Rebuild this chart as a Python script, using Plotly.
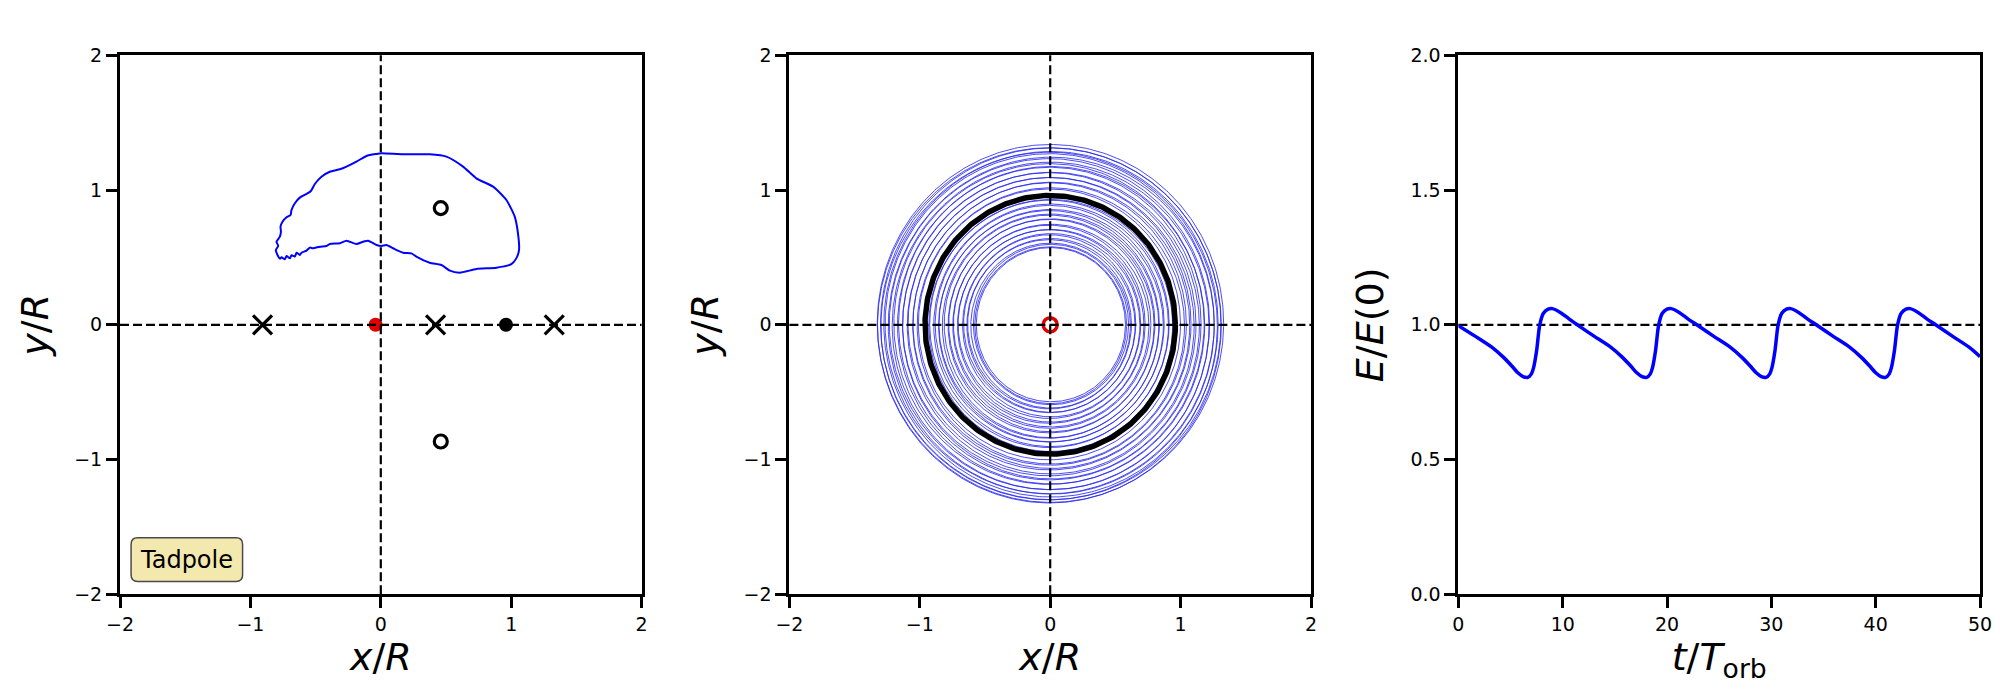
import numpy as np
import plotly.graph_objects as go

# ---------------- data ----------------
# Left panel: tadpole outline (x/R, y/R)
tadpole_x = [0.005, 0.171, 0.375, 0.503, 0.631, 0.733, 0.861, 0.963, 1.027, 1.052, 1.060, 1.039, 1.001,
             0.886, 0.733, 0.605, 0.529, 0.465, 0.375, 0.273, 0.235, 0.171, 0.094, 0.043, 0.005, -0.033,
             -0.097, -0.135, -0.187, -0.263, -0.314, -0.391, -0.416, -0.467, -0.519, -0.544, -0.570,
             -0.608, -0.621, -0.646, -0.659, -0.685, -0.697, -0.723, -0.736, -0.761, -0.774, -0.792,
             -0.805, -0.787, -0.800, -0.774, -0.766, -0.769, -0.754, -0.723, -0.692, -0.685, -0.659,
             -0.621, -0.570, -0.536, -0.506, -0.455, -0.391, -0.314, -0.263, -0.187, -0.110, -0.033, 0.005]
tadpole_y = [1.273, 1.265, 1.265, 1.248, 1.174, 1.087, 1.025, 0.926, 0.803, 0.679, 0.555, 0.493, 0.450,
             0.424, 0.414, 0.387, 0.402, 0.444, 0.461, 0.506, 0.530, 0.535, 0.568, 0.592, 0.585, 0.592,
             0.624, 0.617, 0.600, 0.624, 0.605, 0.600, 0.585, 0.580, 0.568, 0.573, 0.550,
             0.535, 0.518, 0.535, 0.506, 0.516, 0.493, 0.511, 0.486, 0.501, 0.491, 0.518,
             0.555, 0.585, 0.617, 0.654, 0.691, 0.728, 0.765, 0.798, 0.815, 0.852, 0.902,
             0.944, 0.971, 0.993, 1.045, 1.099, 1.136, 1.154, 1.174, 1.211, 1.253, 1.268, 1.273]

lagrange_x = [-0.907, 0.420, 1.330]      # collinear points (x markers)
lagrange_y = [0.0, 0.0, 0.0]
triangular_x = [0.460, 0.460]            # L4 / L5 (open circles)
triangular_y = [0.866, -0.866]
primary_xy = (-0.040, 0.0)               # red dot
secondary_xy = (0.960, 0.0)              # black dot
label_text = "Tadpole"

# Middle panel: trajectory loops (inertial frame): radius and slight centre drift, plus secondary's orbit
loop_radii = [1.328, 1.318, 1.305, 1.29, 1.282, 1.262, 1.25, 1.228, 1.215, 1.19, 1.178, 1.16,
              1.138, 1.125, 1.10, 1.085, 1.062, 1.048, 1.025, 1.005,
              0.935, 0.918, 0.90, 0.878, 0.862, 0.845, 0.83, 0.808, 0.79, 0.775, 0.752,
              0.735, 0.715, 0.70, 0.68, 0.66, 0.645, 0.628, 0.612, 0.595, 0.582, 0.572]
loop_cx = [0.002, -0.006, 0.004, -0.008, 0.006, -0.004, 0.008, -0.006, 0.003, -0.009, 0.007, -0.003,
           0.006, -0.007, 0.004, -0.005, 0.008, -0.004, 0.005, -0.006,
           0.004, -0.006, 0.007, -0.004, 0.006, -0.008, 0.003, -0.005, 0.007, -0.003, 0.005,
           -0.007, 0.004, -0.006, 0.008, -0.004, 0.006, -0.005, 0.003, 0.006, 0.004, 0.005]
loop_cy = [0.010, -0.004, 0.007, -0.009, 0.004, 0.008, -0.006, 0.005, -0.008, 0.006, -0.003, 0.009,
           -0.006, 0.004, -0.007, 0.008, -0.004, 0.006, -0.008, 0.003,
           -0.005, 0.007, -0.004, 0.008, -0.006, 0.003, -0.008, 0.006, -0.004, 0.007, -0.006,
           0.004, -0.007, 0.005, -0.003, 0.008, -0.005, 0.004, -0.006, 0.002, -0.003, 0.001]
secondary_orbit_r = 0.96

# Right panel: energy ratio vs time
t_orb = [0.0, 1.6, 3.2, 4.3, 5.1, 5.7, 6.2, 6.65, 7.0, 7.2, 7.5, 7.8, 8.15, 8.6, 9.0, 9.8, 10.6,
         11.4, 13.0, 14.6, 15.7, 16.5, 17.1, 17.6, 18.05, 18.4, 18.6, 18.9, 19.2, 19.55, 20.0, 20.4, 21.2, 22.0,
         22.85, 24.45, 26.05, 27.15, 27.95, 28.55, 29.05, 29.5, 29.85, 30.05, 30.35, 30.65, 31.0, 31.45, 31.85, 32.65, 33.45,
         34.3, 35.9, 37.5, 38.6, 39.4, 40.0, 40.5, 40.95, 41.3, 41.5, 41.8, 42.1, 42.45, 42.9, 43.3, 44.1, 44.9,
         45.75, 47.35, 48.95, 50.0]
energy = [0.997, 0.958, 0.917, 0.880, 0.848, 0.822, 0.808, 0.805, 0.818, 0.840, 0.905, 1.000, 1.043, 1.058, 1.060, 1.045, 1.022,
          1.000, 0.958, 0.917, 0.880, 0.848, 0.822, 0.808, 0.805, 0.818, 0.840, 0.905, 1.000, 1.043, 1.058, 1.060, 1.045, 1.022,
          1.000, 0.958, 0.917, 0.880, 0.848, 0.822, 0.808, 0.805, 0.818, 0.840, 0.905, 1.000, 1.043, 1.058, 1.060, 1.045, 1.022,
          1.000, 0.958, 0.917, 0.880, 0.848, 0.822, 0.808, 0.805, 0.818, 0.840, 0.905, 1.000, 1.043, 1.058, 1.060, 1.045, 1.022,
          1.000, 0.958, 0.917, 0.882]

xy_ticks = [-2, -1, 0, 1, 2]
t_ticks = [0, 10, 20, 30, 40, 50]
e_ticks = [0.0, 0.5, 1.0, 1.5, 2.0]

# ---------------- figure ----------------
FONT = "DejaVu Sans"
fig = go.Figure()

# Left panel
fig.add_trace(go.Scatter(x=tadpole_x, y=tadpole_y, mode="lines",
                         line=dict(color="#0000ff", width=2, shape="spline", smoothing=0.6),
                         xaxis="x", yaxis="y", showlegend=False, hoverinfo="skip"))
fig.add_trace(go.Scatter(x=[primary_xy[0]], y=[primary_xy[1]], mode="markers",
                         marker=dict(color="#e00000", size=14, line=dict(width=0)),
                         xaxis="x", yaxis="y", showlegend=False))
fig.add_trace(go.Scatter(x=[secondary_xy[0]], y=[secondary_xy[1]], mode="markers",
                         marker=dict(color="black", size=14, line=dict(width=0)),
                         xaxis="x", yaxis="y", showlegend=False))
fig.add_trace(go.Scatter(x=lagrange_x, y=lagrange_y, mode="markers",
                         marker=dict(symbol="x-thin", size=19, line=dict(color="black", width=3.2)),
                         xaxis="x", yaxis="y", showlegend=False))
fig.add_trace(go.Scatter(x=triangular_x, y=triangular_y, mode="markers",
                         marker=dict(symbol="circle-open", size=13, color="black", line=dict(width=3.2)),
                         xaxis="x", yaxis="y", showlegend=False))

# Middle panel: loops
theta = np.linspace(0, 2 * np.pi, 361)
rx, ry = [], []
for r, cx, cy in zip(loop_radii, loop_cx, loop_cy):
    rx += list(cx + r * np.cos(theta)) + [None]
    ry += list(cy + r * np.sin(theta)) + [None]
fig.add_trace(go.Scatter(x=rx, y=ry, mode="lines",
                         line=dict(color="rgba(45,45,240,0.85)", width=1.0),
                         xaxis="x2", yaxis="y2", showlegend=False, hoverinfo="skip"))
fig.add_trace(go.Scatter(x=list(secondary_orbit_r * np.cos(theta)), y=list(secondary_orbit_r * np.sin(theta)),
                         mode="lines", line=dict(color="black", width=5.5),
                         xaxis="x2", yaxis="y2", showlegend=False, hoverinfo="skip"))
fig.add_trace(go.Scatter(x=[0], y=[0], mode="markers",
                         marker=dict(symbol="circle-open", size=14, color="#e00000", line=dict(width=3.5)),
                         xaxis="x2", yaxis="y2", showlegend=False))

# Right panel
fig.add_trace(go.Scatter(x=t_orb, y=energy, mode="lines",
                         line=dict(color="#0000ff", width=3.5, shape="spline", smoothing=0.8),
                         xaxis="x3", yaxis="y3", showlegend=False))

dash = dict(color="black", width=2.2, dash="9px,4px")
shapes = []
for ax in ["", "2"]:
    shapes.append(dict(type="line", xref=f"x{ax} domain", yref=f"y{ax}", x0=0, x1=1, y0=0, y1=0, line=dash, layer="above"))
    shapes.append(dict(type="line", xref=f"x{ax}", yref=f"y{ax} domain", x0=0, x1=0, y0=0, y1=1, line=dash, layer="above"))
shapes.append(dict(type="line", xref="x3 domain", yref="y3", x0=0, x1=1, y0=1, y1=1, line=dash, layer="below"))

# rounded label box in left panel
bx0, bx1, by0, by1, rxx, ryy = -1.915, -1.06, -1.905, -1.58, 0.05, 0.05
path = (f"M {bx0+rxx},{by0} L {bx1-rxx},{by0} Q {bx1},{by0} {bx1},{by0+ryy} "
        f"L {bx1},{by1-ryy} Q {bx1},{by1} {bx1-rxx},{by1} L {bx0+rxx},{by1} "
        f"Q {bx0},{by1} {bx0},{by1-ryy} L {bx0},{by0+ryy} Q {bx0},{by0} {bx0+rxx},{by0} Z")
shapes.append(dict(type="path", xref="x", yref="y", path=path, fillcolor="#f3e9af",
                   line=dict(color="#4a4a4a", width=1.5), layer="above"))

annotations = [dict(x=(bx0 + bx1) / 2, y=(by0 + by1) / 2, xref="x", yref="y", text=label_text,
                    showarrow=False, font=dict(family=FONT, size=24, color="black"))]

# page has ~8px body margin: shift domains to compensate
dx = 8 / 2000
dy = 8 / 700
ydom = [0.151 + dy, 0.921 + dy]
common = dict(showline=True, linecolor="black", linewidth=3, mirror=True, ticks="outside",
              ticklen=11, tickwidth=3, tickcolor="black", showgrid=False, zeroline=False,
              automargin=False, tickfont=dict(family=FONT, size=19, color="black"))
title_font = dict(family=FONT, size=38, color="black")

fig.update_layout(
    width=2000, height=700, margin=dict(l=0, r=0, t=0, b=0, autoexpand=False),
    paper_bgcolor="white", plot_bgcolor="white", showlegend=False,
    shapes=shapes, annotations=annotations,
    xaxis=dict(domain=[0.06 - dx, 0.3208 - dx], range=[-2, 2], tickvals=xy_ticks, anchor="y",
               title=dict(text="<i>x</i>/<i>R</i>", font=title_font, standoff=4), **common),
    yaxis=dict(domain=ydom, range=[-2, 2], tickvals=xy_ticks, anchor="x",
               title=dict(text="<i>y</i>/<i>R</i>", font=title_font, standoff=14), **common),
    xaxis2=dict(domain=[0.3947 - dx, 0.6555 - dx], range=[-2, 2], tickvals=xy_ticks, anchor="y2",
                title=dict(text="<i>x</i>/<i>R</i>", font=title_font, standoff=4), **common),
    yaxis2=dict(domain=ydom, range=[-2, 2], tickvals=xy_ticks, anchor="x2",
                title=dict(text="<i>y</i>/<i>R</i>", font=title_font, standoff=14), **common),
    xaxis3=dict(domain=[0.7292 - dx, 0.99 - dx], range=[0, 50], tickvals=t_ticks, anchor="y3",
                title=dict(text="<i>t</i>/<i>T</i><sub>orb</sub>", font=title_font, standoff=4), **common),
    yaxis3=dict(domain=ydom, range=[0, 2], tickvals=e_ticks, tickformat=".1f", anchor="x3",
                title=dict(text="<i>E</i>/<i>E</i>(0)", font=title_font, standoff=16), **common),
)

fig.write_html("out.html")
